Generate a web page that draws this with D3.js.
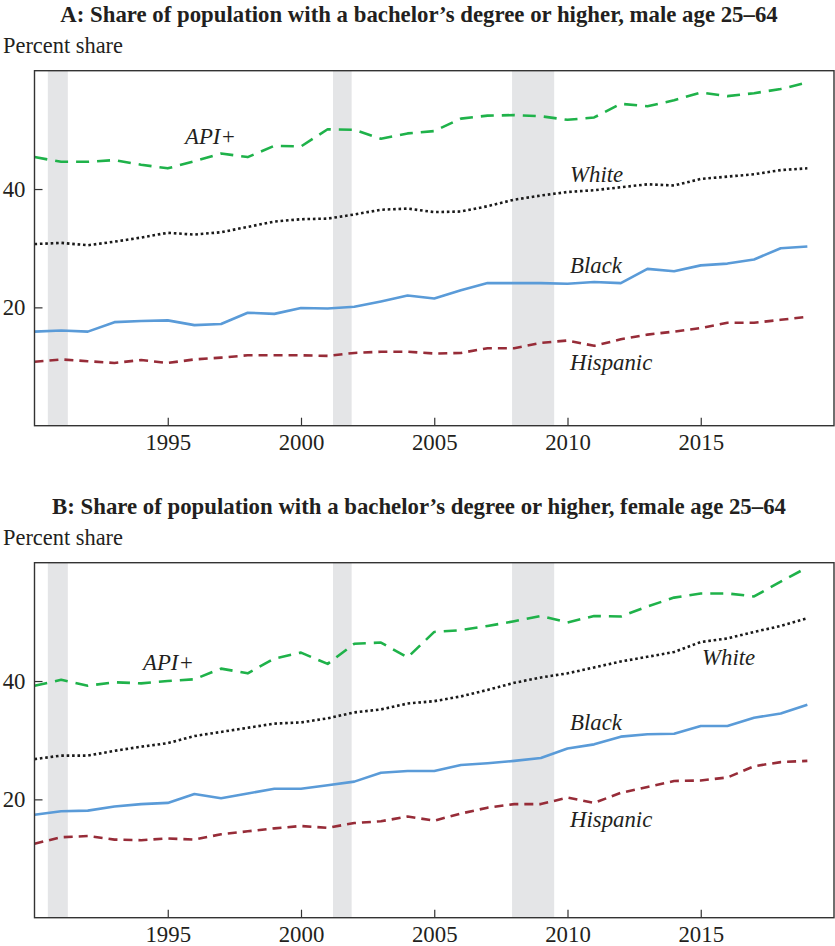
<!DOCTYPE html>
<html>
<head>
<meta charset="utf-8">
<script src="https://d3js.org/d3.v7.min.js"></script>
<style>
    body { margin: 0; background: #fff; }
    text { font-family: "Liberation Serif", "Times New Roman", serif; fill: #231f20; }
    .title { font-weight: bold; font-size: 22.8px; }
    .unit { font-size: 22.4px; }
    .tick text { font-size: 22.8px; font-family: "Liberation Serif", serif; fill: #231f20; }
    .tick line { stroke: #333; stroke-width: 1.2px; }
    .label { font-style: italic; font-size: 22.8px; }
    .frame { fill: none; stroke: #333; stroke-width: 1.4px; }
    .recession { fill: #e4e5e7; }
    .series { fill: none; stroke-width: 2.6px; stroke-linejoin: round; }
</style>
</head>
<body>
<script>
// years of the data
const years = d3.range(1990, 2020);

// Panel A: male age 25-64
const apiMale = [45.4, 44.6, 44.6, 44.9, 44.1, 43.5, 44.7, 46.0, 45.4, 47.3, 47.2, 50.1, 50.0, 48.5, 49.4,
                 49.8, 51.9, 52.4, 52.5, 52.3, 51.7, 52.1, 54.4, 54.0, 55.0, 56.3, 55.7, 56.2, 56.9, 58.0];
const whiteMale = [30.7, 30.9, 30.5, 31.1, 31.8, 32.6, 32.3, 32.7, 33.6, 34.5, 34.9, 35.0, 35.7, 36.5, 36.7,
                   36.1, 36.2, 37.1, 38.2, 38.9, 39.5, 39.8, 40.3, 40.8, 40.6, 41.7, 42.1, 42.5, 43.2, 43.5];
const blackMale = [15.9, 16.1, 15.9, 17.5, 17.7, 17.8, 17.0, 17.2, 19.1, 18.9, 19.9, 19.8, 20.1, 21.0, 22.0,
                   21.5, 22.9, 24.1, 24.1, 24.1, 24.0, 24.3, 24.1, 26.5, 26.1, 27.1, 27.4, 28.1, 30.0, 30.3];
const hispMale = [10.8, 11.2, 10.9, 10.6, 11.1, 10.6, 11.2, 11.5, 11.9, 11.9, 11.9, 11.8, 12.3, 12.5, 12.5,
                  12.2, 12.3, 13.1, 13.1, 14.0, 14.4, 13.5, 14.6, 15.4, 15.9, 16.5, 17.4, 17.4, 17.9, 18.4];

// Panel B: female age 25-64
const apiFemale = [39.2, 40.2, 39.2, 39.8, 39.6, 40.0, 40.3, 42.1, 41.3, 43.8, 44.8, 42.9, 46.3, 46.5, 44.0,
                   48.3, 48.6, 49.3, 50.1, 51.0, 49.9, 51.0, 50.9, 52.6, 54.1, 54.8, 54.8, 54.3, 56.8, 59.2];
const whiteFemale = [26.8, 27.4, 27.4, 28.2, 28.9, 29.5, 30.7, 31.4, 32.1, 32.8, 33.0, 33.7, 34.7, 35.2, 36.2,
                     36.6, 37.4, 38.5, 39.7, 40.6, 41.3, 42.3, 43.3, 44.1, 44.9, 46.6, 47.2, 48.3, 49.3, 50.6];
const blackFemale = [17.4, 18.0, 18.1, 18.8, 19.2, 19.4, 20.9, 20.2, 21.0, 21.8, 21.8, 22.4, 23.0, 24.5, 24.8,
                     24.8, 25.8, 26.1, 26.5, 27.0, 28.6, 29.3, 30.6, 31.0, 31.1, 32.4, 32.4, 33.8, 34.5, 36.0];
const hispFemale = [12.5, 13.6, 13.8, 13.2, 13.1, 13.4, 13.2, 14.1, 14.6, 15.1, 15.5, 15.2, 16.0, 16.3, 17.1,
                    16.4, 17.6, 18.6, 19.2, 19.2, 20.3, 19.4, 21.1, 22.1, 23.1, 23.2, 23.7, 25.6, 26.3, 26.5];

// recessions (start, end) in fractional years
const recessions = [[1990.5, 1991.25], [2001.2, 2001.9], [2007.92, 2009.5]];

const xTicks = [1995, 2000, 2005, 2010, 2015];
const yTicks = [20, 40];

const seriesStyle = {
    api:   { color: "#1fb24a", dash: "13,8" },
    white: { color: "#1a1a1a", dash: "2.6,2.8" },
    black: { color: "#5a9bd8", dash: null },
    hisp:  { color: "#972c38", dash: "9,6" }
};

const svg = d3.select("body").append("svg")
    .attr("width", 835)
    .attr("height", 946);

const x = d3.scaleLinear().domain([1990, 2020]).range([34.5, 834]);

function drawPanel(p) {
    const y = d3.scaleLinear().domain([0, 60]).range([p.bottom, p.top]);
    const g = svg.append("g");

    g.append("text").attr("class", "title")
        .attr("x", 419).attr("y", p.titleY)
        .attr("text-anchor", "middle")
        .text(p.title);

    g.append("text").attr("class", "unit")
        .attr("x", 3).attr("y", p.unitY)
        .text("Percent share");

    // recession shading
    g.selectAll("rect.recession").data(recessions)
        .join("rect")
        .attr("class", "recession")
        .attr("x", d => x(d[0]))
        .attr("width", d => x(d[1]) - x(d[0]))
        .attr("y", p.top)
        .attr("height", p.bottom - p.top);

    // lines
    const line = d3.line().x((d, i) => x(years[i])).y(d => y(d));
    p.series.forEach(s => {
        const st = seriesStyle[s.key];
        g.append("path").datum(s.values)
            .attr("class", "series")
            .attr("d", line)
            .attr("stroke", st.color)
            .attr("stroke-dasharray", st.dash);
    });

    // axes with inward ticks
    const xAxis = g.append("g")
        .attr("transform", "translate(0," + p.bottom + ")")
        .call(d3.axisBottom(x).tickValues(xTicks).tickFormat(d3.format("d")).tickSize(-8).tickPadding(8));
    xAxis.select(".domain").remove();

    const yAxis = g.append("g")
        .attr("transform", "translate(" + x.range()[0] + ",0)")
        .call(d3.axisLeft(y).tickValues(yTicks).tickSize(-8).tickPadding(9));
    yAxis.select(".domain").remove();

    g.append("rect").attr("class", "frame")
        .attr("x", x.range()[0]).attr("y", p.top)
        .attr("width", x.range()[1] - x.range()[0])
        .attr("height", p.bottom - p.top);

    // series labels
    g.selectAll("text.label").data(p.labels)
        .join("text")
        .attr("class", "label")
        .attr("x", d => d.x)
        .attr("y", d => d.y)
        .text(d => d.text);
}

drawPanel({
    title: "A: Share of population with a bachelor\u2019s degree or higher, male age 25\u201364",
    titleY: 22, unitY: 53, top: 70.7, bottom: 425.7,
    series: [
        { key: "api", values: apiMale },
        { key: "white", values: whiteMale },
        { key: "black", values: blackMale },
        { key: "hisp", values: hispMale }
    ],
    labels: [
        { text: "API+", x: 185, y: 144 },
        { text: "White", x: 570, y: 182 },
        { text: "Black", x: 570, y: 273 },
        { text: "Hispanic", x: 570, y: 370 }
    ]
});

drawPanel({
    title: "B: Share of population with a bachelor\u2019s degree or higher, female age 25\u201364",
    titleY: 514, unitY: 545, top: 562.7, bottom: 917.7,
    series: [
        { key: "api", values: apiFemale },
        { key: "white", values: whiteFemale },
        { key: "black", values: blackFemale },
        { key: "hisp", values: hispFemale }
    ],
    labels: [
        { text: "API+", x: 143, y: 670 },
        { text: "White", x: 702, y: 665 },
        { text: "Black", x: 570, y: 730 },
        { text: "Hispanic", x: 570, y: 827 }
    ]
});
</script>
</body>
</html>
